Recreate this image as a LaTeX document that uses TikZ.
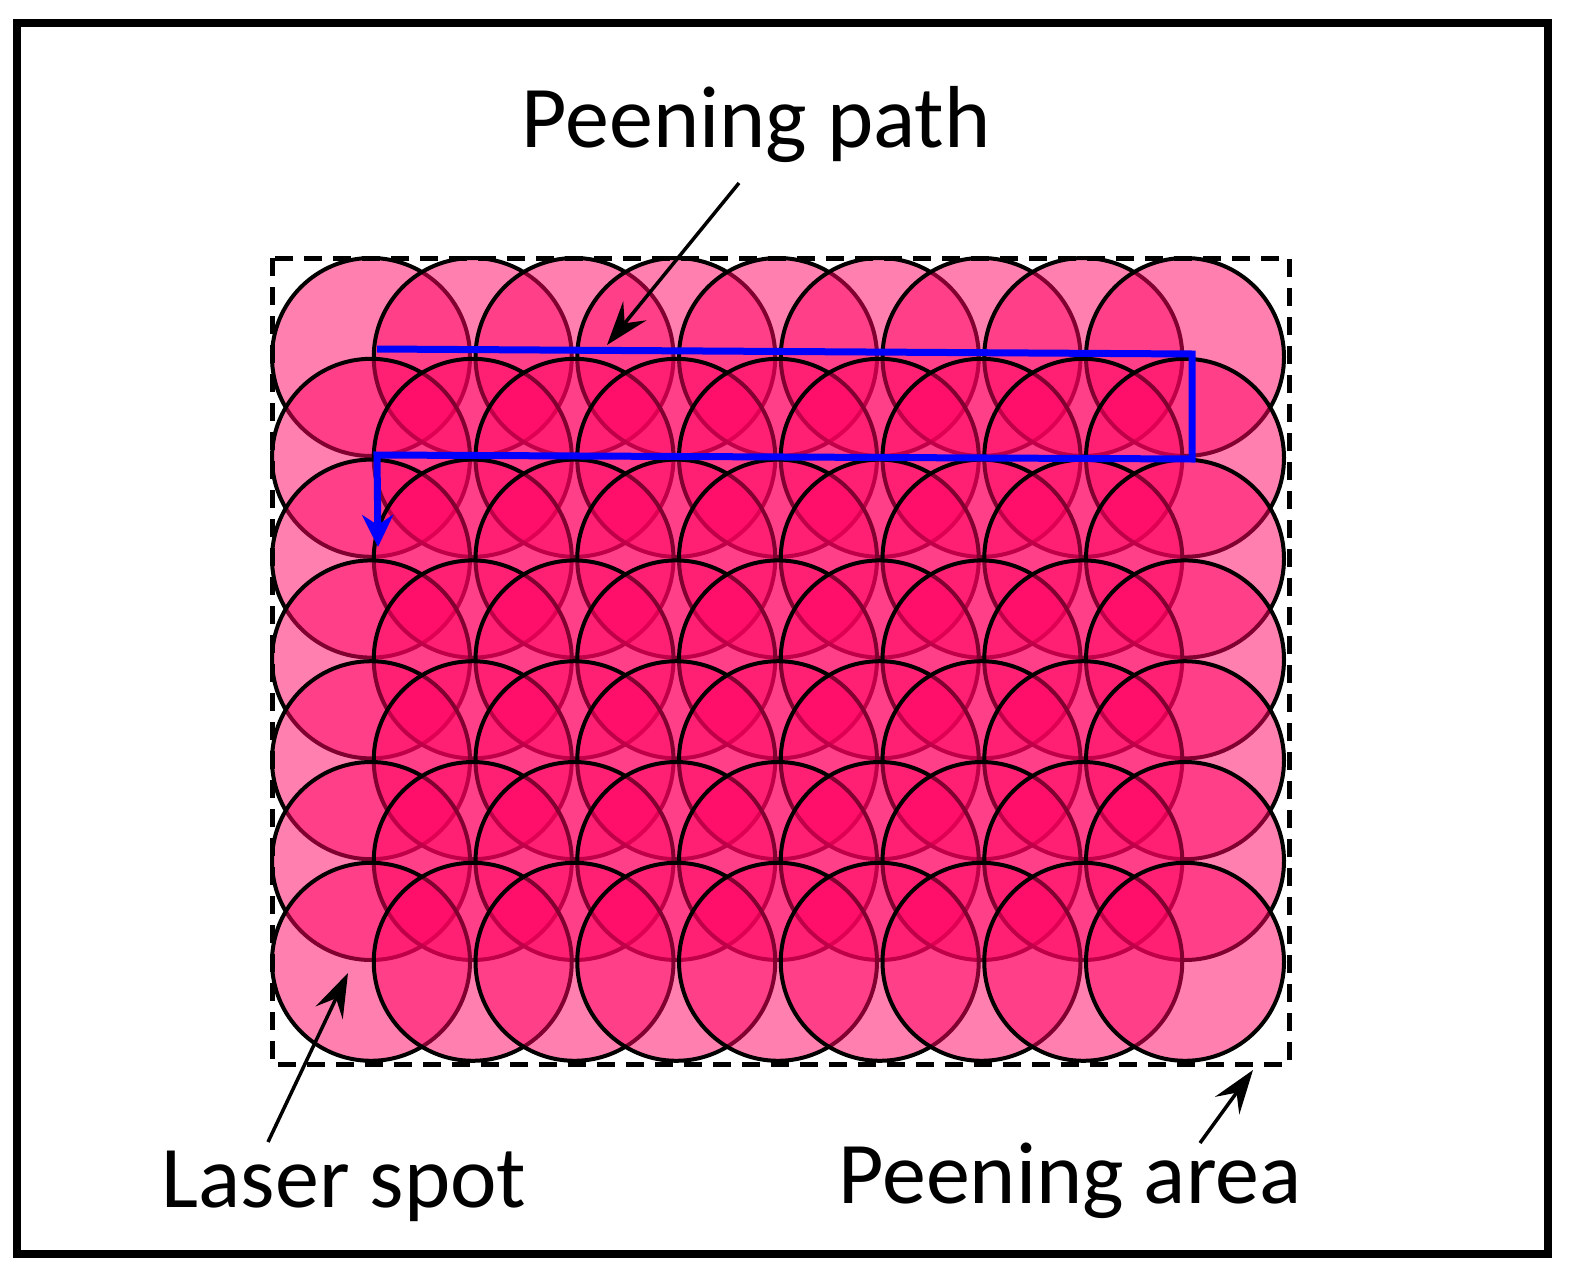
\documentclass[tikz,border=0pt]{standalone}
\usepackage{fontspec}
\setmainfont{Carlito}
\usetikzlibrary{arrows.meta}
\definecolor{spotpink}{RGB}{255,0,96}
\definecolor{pathblue}{RGB}{0,0,255}
\begin{document}
\begin{tikzpicture}[x=1pt,y=-1pt,
  spot/.style={circle, draw=black, line width=4pt, fill=spotpink, fill opacity=0.5, minimum size=198pt, inner sep=0pt, outer sep=0pt},
  lbl/.style={font=\fontsize{88}{100}\selectfont, inner sep=0pt, anchor=base},
  pointer/.style={line width=3.5pt, -{Stealth[length=44pt,width=30pt,inset=16pt]}},
  peenpath/.style={draw=pathblue, line width=7pt, line join=miter, -{Stealth[length=32pt,width=31pt,inset=10pt,fill=pathblue]}},
  areabox/.style={line width=5pt, dash pattern=on 18pt off 11pt},
  outerframe/.style={line width=8pt}]
\useasboundingbox (0,0) rectangle (1571,1279);
\draw[outerframe] (17,23) rectangle (1547.5,1253.5);
% laser spots, drawn row by row, left to right
\foreach \j in {0,...,6}{
  \foreach \i in {0,...,8}{
    \node[spot] (s\j-\i) at ({371+101.75*\i},{357+100.8*\j}) {};
  }
}
% peening area
\draw[areabox] (272,258) rectangle (1289,1064);
% peening path
\coordinate (bp1) at (377,349);
\coordinate (bp2) at (1192,354);
\coordinate (bp3) at (1192,459);
\coordinate (bp4) at (377,455);
\coordinate (bp5) at (378,547);
\draw[peenpath] (bp1) -- (bp2) -- (bp3) -- (bp4) -- (bp5);
% labels
\node[lbl] (tpath) at (756,147) {Peening path};
\node[lbl] (tspot) at (344,1207) {Laser spot};
\node[lbl] (tarea) at (1070,1203) {Peening area};
% pointers
\coordinate (pathfrom) at (739,183);
\coordinate (pathto) at (607,345);
\coordinate (spotfrom) at (268,1142);
\coordinate (spotto) at (348,973);
\coordinate (areafrom) at (1200,1143);
\coordinate (areato) at (1253,1070);
\draw[pointer] (pathfrom) -- (pathto);
\draw[pointer] (spotfrom) -- (spotto);
\draw[pointer] (areafrom) -- (areato);
\end{tikzpicture}
\end{document}
